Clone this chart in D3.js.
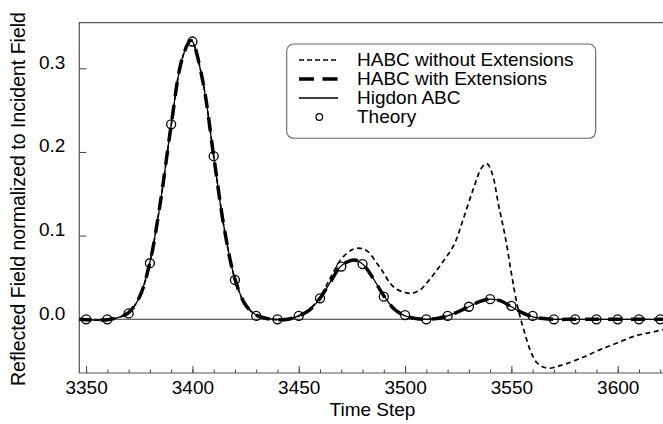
<!DOCTYPE html>
<html>
<head>
<meta charset="utf-8">
<script src="https://cdn.jsdelivr.net/npm/d3@7"></script>
<style>
  body { margin: 0; background: #fff; }
  text { font-family: "Liberation Sans", Arial, sans-serif; fill: #000; }
</style>
</head>
<body>
<div id="chart"></div>
<script>
// time steps and values
const mainSteps = [3346, 3350, 3355, 3360, 3365, 3370, 3375, 3380, 3385, 3390, 3395, 3399, 3400, 3405, 3410, 3415, 3420, 3425, 3430, 3435, 3440, 3445, 3450, 3455, 3460, 3465, 3470, 3476, 3480, 3485, 3490, 3495, 3500, 3505, 3510, 3515, 3520, 3525, 3530, 3535, 3540, 3545, 3550, 3555, 3560, 3565, 3570, 3580, 3590, 3600, 3610, 3622];
const higdonValues = [0, -0.0005, -0.001, -0.0005, 0.002, 0.008, 0.026, 0.068, 0.141, 0.232, 0.310, 0.333, 0.332, 0.283, 0.195, 0.108, 0.048, 0.017, 0.005, 0.001, -0.0005, 0, 0.004, 0.011, 0.025, 0.045, 0.064, 0.071, 0.066, 0.049, 0.028, 0.012, 0.004, 0.001, 0, 0.001, 0.004, 0.009, 0.015, 0.021, 0.024, 0.022, 0.015, 0.008, 0.003, 0.001, 0, 0, 0, 0, 0, 0];
const withExtValues = [0, -0.0005, -0.001, -0.0005, 0.002, 0.008, 0.026, 0.068, 0.141, 0.232, 0.310, 0.333, 0.332, 0.283, 0.195, 0.108, 0.048, 0.017, 0.005, 0.001, -0.0005, 0, 0.004, 0.011, 0.025, 0.045, 0.064, 0.071, 0.066, 0.049, 0.028, 0.012, 0.004, 0.001, 0, 0.001, 0.004, 0.009, 0.015, 0.021, 0.024, 0.022, 0.015, 0.008, 0.003, 0.001, 0, 0, 0, 0, 0, 0];

const noExtSteps = [3346, 3350, 3355, 3360, 3365, 3370, 3375, 3380, 3385, 3390, 3395, 3399, 3400, 3405, 3410, 3415, 3420, 3425, 3430, 3435, 3440, 3445, 3450, 3455, 3460, 3465, 3470, 3475, 3478, 3482, 3487, 3490, 3493, 3496, 3500, 3503, 3507, 3512, 3517, 3523, 3527, 3532, 3536, 3538.5, 3541, 3544, 3547, 3550, 3553, 3556, 3559, 3562, 3565, 3568, 3572, 3576, 3584, 3592, 3600, 3608, 3615, 3622];
const noExtValues = [0, -0.0005, -0.001, -0.0005, 0.002, 0.008, 0.026, 0.068, 0.141, 0.232, 0.310, 0.333, 0.332, 0.283, 0.195, 0.108, 0.048, 0.017, 0.005, 0.001, -0.0005, 0, 0.004, 0.012, 0.027, 0.050, 0.072, 0.083, 0.085, 0.082, 0.066, 0.055, 0.043, 0.036, 0.032, 0.031, 0.035, 0.049, 0.066, 0.089, 0.117, 0.155, 0.181, 0.186, 0.174, 0.136, 0.100, 0.055, 0.014, -0.014, -0.038, -0.052, -0.057, -0.0585, -0.056, -0.053, -0.045, -0.036, -0.028, -0.020, -0.016, -0.012];

const theorySteps = [3350, 3360, 3370, 3380, 3390, 3400, 3410, 3420, 3430, 3440, 3450, 3460, 3470, 3480, 3490, 3500, 3510, 3520, 3530, 3540, 3550, 3560, 3570, 3580, 3590, 3600, 3610, 3620];
const theoryValues = [0, 0, 0.007, 0.067, 0.233, 0.332, 0.195, 0.047, 0.004, 0, 0.004, 0.025, 0.063, 0.066, 0.027, 0.005, 0, 0.004, 0.015, 0.024, 0.016, 0.004, 0, 0, 0, 0, 0, 0];

const xTicks = [3350, 3400, 3450, 3500, 3550, 3600];
const xMinorTicks = d3.range(3350, 3621, 10);
const yTicks = [0, 0.1, 0.2, 0.3];

const legendItems = ["HABC without Extensions", "HABC with Extensions", "Higdon ABC", "Theory"];

const width = 663, height = 424;

const svg = d3.select("#chart").append("svg")
  .attr("width", width)
  .attr("height", height);

// scales
const x = d3.scaleLinear().domain([3346.8, 3621.3]).range([79.3, 663]);
const y = d3.scaleLinear().domain([-0.0642, 0.3545]).range([373, 22.7]);

const plot = svg.append("g");

// x axis ticks (pointing inwards)
plot.append("g")
  .attr("transform", `translate(0,${y.range()[0]})`)
  .call(d3.axisBottom(x).tickValues(xMinorTicks).tickSize(-3.5).tickFormat(""))
  .call(g => g.select(".domain").remove())
  .call(g => g.selectAll("line").attr("stroke", "#444"));

plot.append("g")
  .attr("transform", `translate(0,${y.range()[0]})`)
  .call(d3.axisBottom(x).tickValues(xTicks).tickSize(-7).tickPadding(8).tickFormat(d3.format("d")))
  .call(g => g.select(".domain").remove())
  .call(g => g.selectAll("line").attr("stroke", "#444"))
  .call(g => g.selectAll("text").style("font-size", "19px").attr("fill", "#000"));

// y axis ticks
plot.append("g")
  .attr("transform", `translate(${x.range()[0]},0)`)
  .call(d3.axisLeft(y).tickValues(yTicks).tickSize(-7).tickPadding(14).tickFormat(d3.format(".1f")))
  .call(g => g.select(".domain").remove())
  .call(g => g.selectAll("line").attr("stroke", "#444"))
  .call(g => g.selectAll("text").attr("dy", "0").style("font-size", "19px").attr("fill", "#000"));

// frame: left, top, bottom
const [x0, x1] = x.range();
const [yb, yt] = y.range();
plot.append("path")
  .attr("d", `M${x1},${yt}H${x0}V${yb}H${x1}`)
  .attr("fill", "none")
  .attr("stroke", "#555")
  .attr("stroke-width", 1.2);

// zero line
plot.append("line")
  .attr("x1", x0).attr("x2", x1)
  .attr("y1", y(0)).attr("y2", y(0))
  .attr("stroke", "#333")
  .attr("stroke-width", 1.1);

svg.append("clipPath").attr("id", "clip")
  .append("rect").attr("x", x0).attr("y", yt).attr("width", x1 - x0).attr("height", yb - yt);

const line = d3.line()
  .x(d => x(d[0]))
  .y(d => y(d[1]))
  .curve(d3.curveCatmullRom.alpha(0.5));

const curves = svg.append("g").attr("clip-path", "url(#clip)");

curves.append("path")
  .datum(d3.zip(noExtSteps, noExtValues))
  .attr("d", line)
  .attr("fill", "none")
  .attr("stroke", "#000")
  .attr("stroke-width", 1.7)
  .attr("stroke-dasharray", "5,3.5");

curves.append("path")
  .datum(d3.zip(mainSteps, withExtValues))
  .attr("d", line)
  .attr("fill", "none")
  .attr("stroke", "#000")
  .attr("stroke-width", 3.5)
  .attr("stroke-dasharray", "14,9");

curves.append("path")
  .datum(d3.zip(mainSteps, higdonValues))
  .attr("d", line)
  .attr("fill", "none")
  .attr("stroke", "#000")
  .attr("stroke-width", 1.3);

svg.append("g")
  .selectAll("circle")
  .data(d3.zip(theorySteps, theoryValues))
  .join("circle")
  .attr("cx", d => x(d[0]))
  .attr("cy", d => y(d[1]))
  .attr("r", 4.5)
  .attr("fill", "none")
  .attr("stroke", "#000")
  .attr("stroke-width", 1.3);

// axis titles
svg.append("text")
  .attr("x", 372.5)
  .attr("y", 416)
  .attr("text-anchor", "middle")
  .style("font-size", "19px")
  .text("Time Step");

svg.append("text")
  .attr("transform", "translate(25,199) rotate(-90)")
  .attr("text-anchor", "middle")
  .style("font-size", "19.5px")
  .text("Reflected Field normalized to Incident Field");

// legend
const legend = svg.append("g");
legend.append("rect")
  .attr("x", 286.7).attr("y", 44)
  .attr("width", 309).attr("height", 94.3)
  .attr("rx", 7).attr("ry", 7)
  .attr("fill", "#fff")
  .attr("stroke", "#666")
  .attr("stroke-width", 1.1);

const rowY = i => 60 + i * 19;
const legendStyles = [
  { width: 1.7, dash: "5,3" },
  { width: 3.5, dash: "15,8.5" },
  { width: 1.3, dash: null }
];
legendStyles.forEach((s, i) => {
  legend.append("line")
    .attr("x1", 299).attr("x2", 338)
    .attr("y1", rowY(i)).attr("y2", rowY(i))
    .attr("stroke", "#000")
    .attr("stroke-width", s.width)
    .attr("stroke-dasharray", s.dash);
});
legend.append("circle")
  .attr("cx", 319.3).attr("cy", rowY(3))
  .attr("r", 3.3)
  .attr("fill", "none")
  .attr("stroke", "#000")
  .attr("stroke-width", 1.2);

legend.selectAll("text.item")
  .data(legendItems)
  .join("text")
  .attr("class", "item")
  .attr("x", 357)
  .attr("y", (d, i) => rowY(i) + 6)
  .style("font-size", "19px")
  .text(d => d);
</script>
</body>
</html>
